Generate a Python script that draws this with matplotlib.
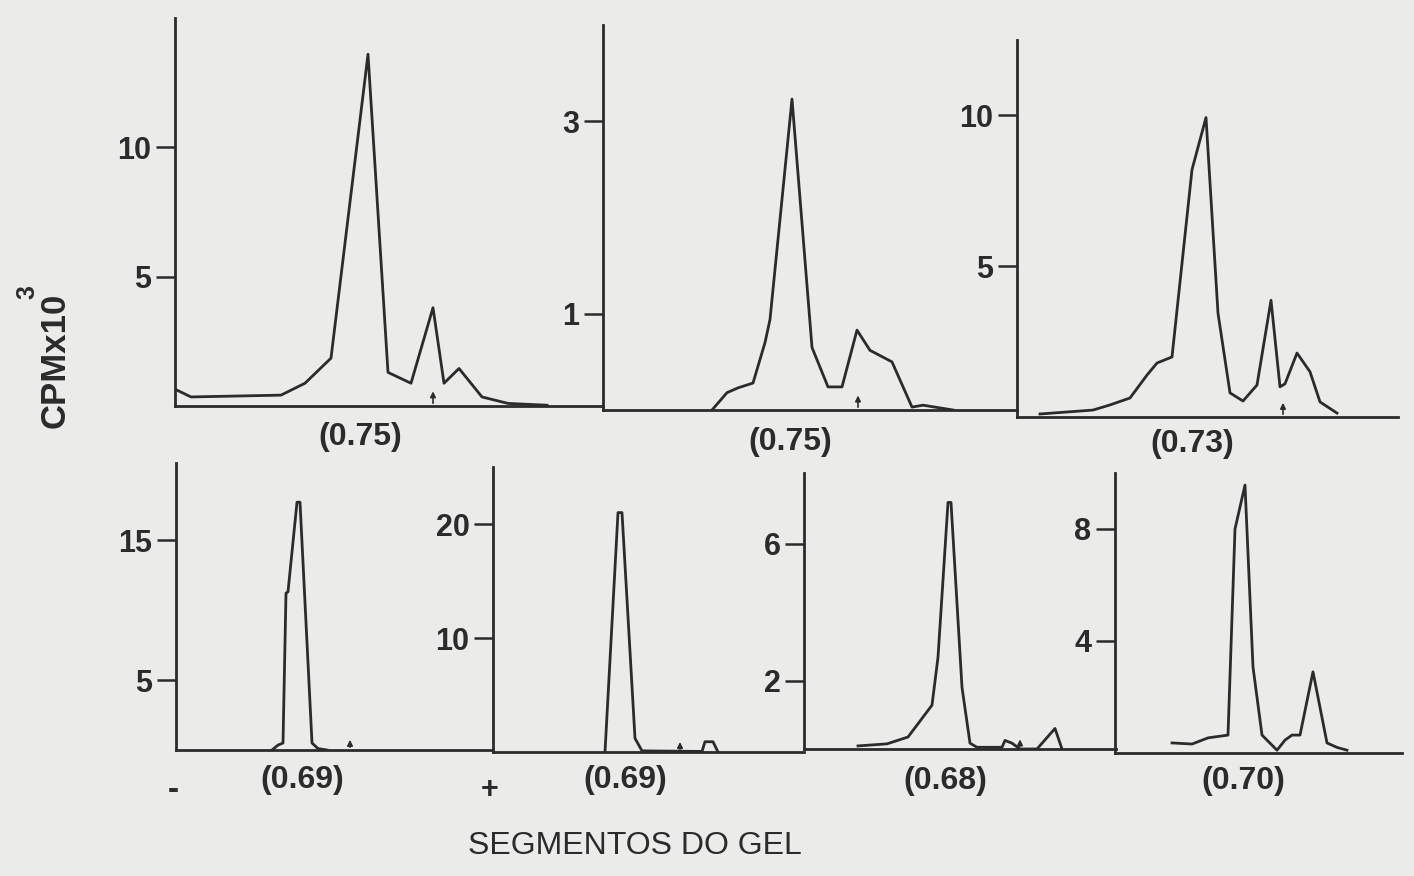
import matplotlib.pyplot as plt

# gel segment position (1 unit ~ one slice) and CPM x 10^3
x_a = [0, 1.6, 10.6, 13.0, 15.6, 19.3, 21.3, 23.6, 25.8, 26.9, 28.4, 30.7, 33.3, 37.2]
y_a = [0.65, 0.35, 0.42, 0.88, 1.85, 13.6, 1.3, 0.88, 3.8, 0.88, 1.45, 0.35, 0.1, 0.03]

x_b = [10.9, 12.4, 13.5, 15.0, 16.2, 16.7, 18.9, 20.9, 22.5, 23.9, 25.4, 26.7, 28.9, 30.9, 32.0, 35.0]
y_b = [0, 0.18, 0.23, 0.28, 0.70, 0.94, 3.23, 0.65, 0.24, 0.24, 0.83, 0.62, 0.5, 0.03, 0.05, 0.0]

x_c = [2.3, 7.6, 9.3, 11.3, 13.0, 14.0, 15.5, 17.5, 18.9, 20.1, 21.3, 22.6, 24.0, 25.4, 26.3, 26.8, 28.0, 29.3, 30.3, 32.0]
y_c = [0.1, 0.23, 0.4, 0.63, 1.39, 1.79, 1.99, 8.2, 9.93, 3.44, 0.8, 0.53, 1.06, 3.87, 1.0, 1.1, 2.12, 1.5, 0.5, 0.13]

x_d = [9.6, 10.2, 10.7, 11.0, 11.2, 12.1, 12.4, 13.6, 14.2, 15.1]
y_d = [0, 0.35, 0.5, 11.2, 11.3, 17.7, 17.7, 0.5, 0.1, 0]

x_e = [11.2, 12.5, 12.9, 14.2, 14.9, 20.9, 21.2, 22.0, 22.5]
y_e = [0, 21.0, 21.0, 1.2, 0.1, 0.05, 0.9, 0.9, 0]

x_f = [5.4, 8.3, 10.4, 12.8, 13.4, 14.4, 14.7, 15.8, 16.6, 17.3, 19.8, 20.1, 20.8, 21.6, 23.3, 25.1, 25.8]
y_f = [0.09, 0.15, 0.35, 1.28, 2.68, 7.2, 7.2, 1.8, 0.17, 0.05, 0.05, 0.25, 0.17, 0, 0, 0.6, 0]

x_g = [5.7, 7.7, 9.3, 11.3, 12.0, 13.0, 13.8, 14.7, 16.2, 17.0, 17.7, 18.5, 19.8, 21.2, 22.2, 23.2]
y_g = [0.36, 0.32, 0.54, 0.64, 8.0, 9.57, 3.07, 0.64, 0.1, 0.46, 0.64, 0.64, 2.9, 0.36, 0.2, 0.1]

# arrow marks on the baseline (segment position)
arrows = [[25.8], [25.5], [26.6], [17.4], [18.7], [21.6], []]
labels = ["(0.75)", "(0.75)", "(0.73)", "(0.69)", "(0.69)", "(0.68)", "(0.70)"]
yticks = [[5, 10], [1, 3], [5, 10], [5, 15], [10, 20], [2, 6], [4, 8]]

xs = [x_a, x_b, x_c, x_d, x_e, x_f, x_g]
ys = [y_a, y_b, y_c, y_d, y_e, y_f, y_g]

W, H = 1414, 876
ink = "#2b2b2b"
font = ["Liberation Sans", "DejaVu Sans"]

# pixel layout: left, right, top, baseline, ytop, label position
layout = [
    (175, 603, 18, 406, 15.0, (360, 437)),
    (603, 1017, 25, 410, 4.0, (790, 442)),
    (1017, 1398, 40, 417, 12.5, (1192, 444)),
    (176, 493, 463, 750, 20.5, (302, 780)),
    (493, 804, 467, 752, 25.0, (625, 780)),
    (804, 1116, 473, 749, 8.06, (945, 781)),
    (1115, 1402, 473, 753, 10.0, (1243, 781)),
]

fig = plt.figure(figsize=(W / 100, H / 100), dpi=100)
fig.patch.set_facecolor("#ebebea")

for i in range(7):
    l, r, t, b, ytop, (lx, ly) = layout[i]
    ax = fig.add_axes([l / W, 1 - b / H, (r - l) / W, (b - t) / H])
    ax.patch.set_alpha(0)
    ax.plot(xs[i], ys[i], color=ink, lw=2.0)
    ax.set_xlim(0, (r - l) / 10)
    ax.set_ylim(0, ytop)
    for s in ["top", "right"]:
        ax.spines[s].set_visible(False)
    for s in ["left", "bottom"]:
        ax.spines[s].set_color(ink)
        ax.spines[s].set_linewidth(2.0)
    ax.set_xticks([])
    ax.set_yticks(yticks[i])
    ax.tick_params(axis="y", direction="out", length=14, width=1.8,
                   color=ink, pad=3, labelsize=22, labelcolor=ink)
    for lab in ax.get_yticklabels():
        lab.set_family(font)
        lab.set_fontweight("bold")
    for a in arrows[i]:
        ax.annotate("", xy=(a, 0.045), xytext=(a, 0.0),
                    xycoords=ax.get_xaxis_transform(),
                    arrowprops=dict(arrowstyle="-|>", color=ink, lw=1.2,
                                    mutation_scale=8))
    fig.text(lx / W, 1 - ly / H, labels[i], ha="center", va="center",
             fontsize=23, fontweight="bold", color=ink, family=font)

fig.text(55 / W, 1 - 360 / H, "CPMx10", rotation=90, ha="center", va="center",
         fontsize=25, fontweight="bold", color=ink, family=font)
fig.text(27 / W, 1 - 292 / H, "3", rotation=90, ha="center", va="center",
         fontsize=18, fontweight="bold", color=ink, family=font)
fig.text(173 / W, 1 - 790 / H, "-", ha="center", va="center",
         fontsize=24, fontweight="bold", color=ink, family=font)
fig.text(490 / W, 1 - 790 / H, "+", ha="center", va="center",
         fontsize=22, fontweight="bold", color=ink, family=font)
fig.text(635 / W, 1 - 846 / H, "SEGMENTOS DO GEL", ha="center", va="center",
         fontsize=23, color=ink, family=font)

fig.savefig("out.png", dpi=100, facecolor=fig.get_facecolor())
